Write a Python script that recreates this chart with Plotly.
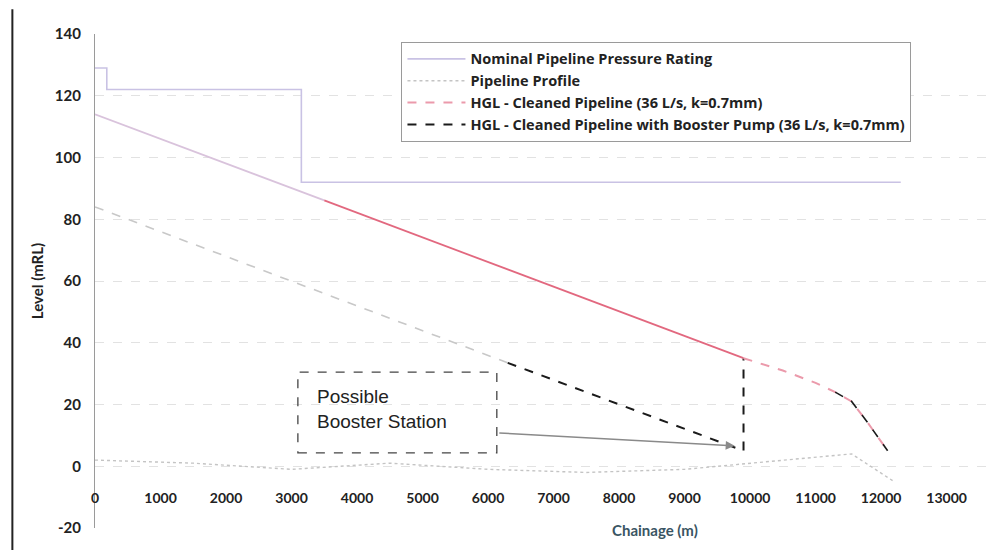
import plotly.graph_objects as go

# ---------------- data ----------------
pressure_x = [0, 180, 180, 3150, 3150, 12300]
pressure_y = [129, 129, 122, 122, 92, 92]

profile_x = [0, 1500, 3000, 4500, 6000, 7500, 9000, 10500, 11550, 12200]
profile_y = [2, 1, -1, 1, -1, -2, -1, 2, 4, -5]

hgl_x = [0, 3500, 9900, 10500, 11000, 11300, 11550, 11800, 12100]
hgl_y = [114, 86.1, 35, 31, 27, 24, 21, 14, 5]

booster_x = [0, 6300, 9900, 9900, 11300, 11550, 11800, 12100]
booster_y = [84, 33.5, 5, 35, 24, 21, 14, 5]

x_ticks = [0, 1000, 2000, 3000, 4000, 5000, 6000, 7000, 8000, 9000,
           10000, 11000, 12000, 13000]
x_tick_text = [str(v) for v in x_ticks]
y_ticks = [-20, 0, 20, 40, 60, 80, 100, 120, 140]
y_tick_text = [str(v) for v in y_ticks]

names = ["Nominal Pipeline Pressure Rating",
         "Pipeline Profile",
         "HGL - Cleaned Pipeline (36 L/s, k=0.7mm)",
         "HGL - Cleaned Pipeline with Booster Pump (36 L/s, k=0.7mm)"]

# ---------------- figure ----------------
fig = go.Figure()

fig.add_trace(go.Scatter(x=pressure_x, y=pressure_y, mode="lines", name=names[0],
                         line=dict(color="#c9c2e4", width=1.6), legendrank=1))

fig.add_trace(go.Scatter(x=profile_x, y=profile_y, mode="lines", name=names[1],
                         line=dict(color="#c4c4c4", width=1.4, dash="dot"), legendrank=2))

# booster HGL: faded first part, dark second part
fig.add_trace(go.Scatter(x=booster_x[0:2], y=booster_y[0:2], mode="lines", showlegend=False,
                         line=dict(color="#c8c8c8", width=1.6, dash="dash")))
fig.add_trace(go.Scatter(x=booster_x[1:4], y=booster_y[1:4], mode="lines", name=names[3],
                         line=dict(color="#1a1a1a", width=2, dash="dash"), legendrank=4))

# cleaned pipeline HGL
fig.add_trace(go.Scatter(x=hgl_x[0:2], y=hgl_y[0:2], mode="lines", showlegend=False,
                         line=dict(color="#d9c3dc", width=1.8)))
fig.add_trace(go.Scatter(x=hgl_x[1:3], y=hgl_y[1:3], mode="lines", showlegend=False,
                         line=dict(color="#e2687f", width=1.8)))
fig.add_trace(go.Scatter(x=hgl_x[2:], y=hgl_y[2:], mode="lines", name=names[2],
                         line=dict(color="#eb9aab", width=2, dash="dash"), legendrank=3))

# booster HGL tail (visible over the pink line)
fig.add_trace(go.Scatter(x=booster_x[4:], y=booster_y[4:], mode="lines", showlegend=False,
                         line=dict(color="#1a1a1a", width=1.6, dash="dash")))

# booster annotation box
fig.add_shape(type="rect", xref="x", yref="y", x0=3097, x1=6134, y0=4.3, y1=30.5,
              line=dict(color="#444444", width=1.3, dash="dash"))
fig.add_annotation(x=3357, y=18.5, xref="x", yref="y", xanchor="left", yanchor="middle",
                   text="Possible<br>Booster Station", showarrow=False, align="left",
                   font=dict(family="Liberation Sans", size=19, color="#222222"))
fig.add_annotation(x=9765, y=6.6, ax=6149, ay=10.8, xref="x", yref="y", axref="x", ayref="y",
                   text="", showarrow=True, arrowhead=2, arrowsize=1.2, arrowwidth=1.5,
                   arrowcolor="#8a8a8a")

# left border line of the scanned chart
fig.add_shape(type="line", xref="paper", yref="paper", x0=-0.0914, x1=-0.0914, y0=-0.05, y1=1.05,
              line=dict(color="#222222", width=2))

# axis titles
fig.add_annotation(xref="paper", yref="paper", x=-0.064, y=0.5, text="Level (mRL)",
                   textangle=-90, showarrow=False, xanchor="center", yanchor="middle",
                   font=dict(family="Lato", size=15, color="#222222", weight="bold"))
fig.add_annotation(xref="paper", yref="paper", x=0.619, y=-0.005, text="Chainage (m)",
                   showarrow=False, xanchor="center", yanchor="middle",
                   font=dict(family="Lato", size=15, color="#3a5563", weight="bold"))

fig.update_layout(
    width=1003, height=550,
    margin=dict(l=87, r=12, t=26, b=30),
    paper_bgcolor="white", plot_bgcolor="white",
    font=dict(family="Lato", color="#222222"),
    showlegend=True,
    legend=dict(x=0.339, y=0.984, xanchor="left", yanchor="top",
                bordercolor="#9a9a9a", borderwidth=1, bgcolor="white",
                font=dict(family="Open Sans", size=14.5, color="#222222", weight="bold"),
                itemwidth=58, tracegroupgap=0),
    xaxis=dict(range=[0, 13800], tickvals=x_ticks, ticktext=x_tick_text,
               anchor="free", position=0.125, showline=False, showgrid=False, zeroline=False,
               ticks="", ticklabelstandoff=22, automargin=False,
               tickfont=dict(family="Lato", size=14, color="#222222", weight="bold")),
    yaxis=dict(range=[-20, 140], tickvals=y_ticks, ticktext=y_tick_text,
               showline=True, linecolor="#9a9a9a", automargin=False,
               linewidth=1.2, showgrid=True, gridcolor="#e2e2e2", griddash="dash",
               zeroline=False, ticks="", ticklabelstandoff=10,
               tickfont=dict(family="Lato", size=15, color="#222222", weight="bold")),
)

fig.write_html("out.html")
